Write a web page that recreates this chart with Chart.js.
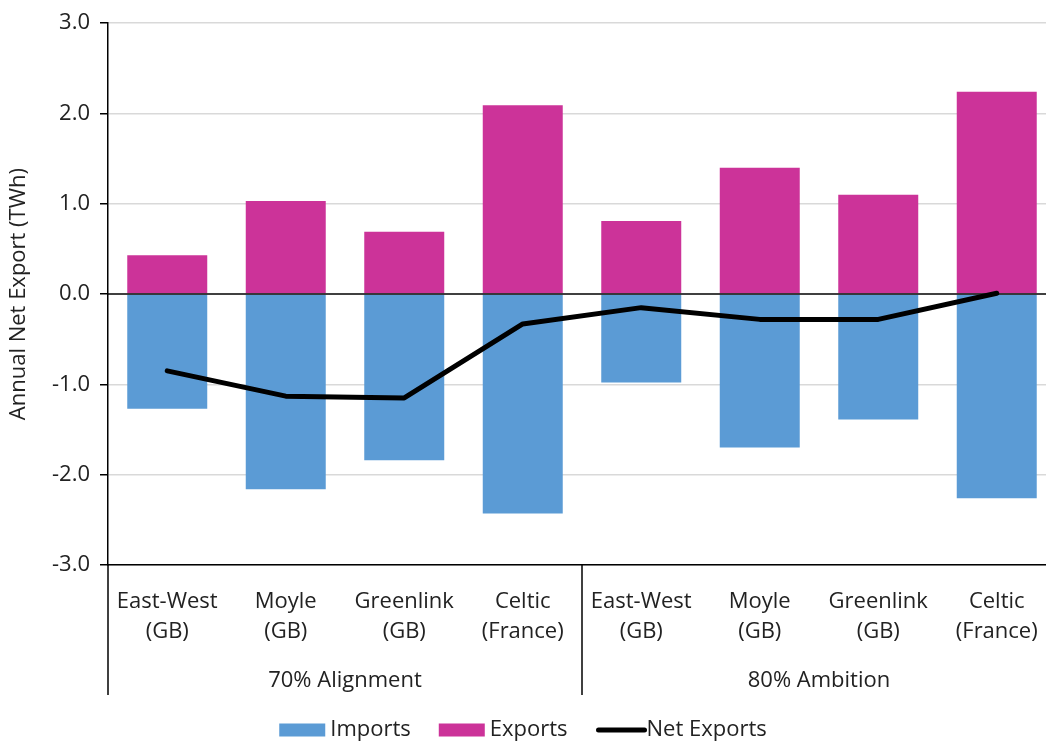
<!DOCTYPE html>
<html>
<head>
<meta charset="utf-8">
<script src="https://cdn.jsdelivr.net/npm/chart.js@4"></script>
<style>
  html, body { margin: 0; padding: 0; background: #fff; overflow: hidden; }
  #wrap { width: 1070px; height: 742px; }
</style>
</head>
<body>
<div id="wrap"><canvas id="chart" width="1070" height="742"></canvas></div>
<script>
// interconnector labels, two scenarios of four links each
const links = [
  ['East-West', '(GB)'], ['Moyle', '(GB)'], ['Greenlink', '(GB)'], ['Celtic', '(France)'],
  ['East-West', '(GB)'], ['Moyle', '(GB)'], ['Greenlink', '(GB)'], ['Celtic', '(France)']
];
const scenarios = ['70% Alignment', '80% Ambition'];
const imports = [-1.27, -2.16, -1.84, -2.43, -0.98, -1.70, -1.39, -2.26];
const exportsTWh = [0.43, 1.03, 0.69, 2.09, 0.81, 1.40, 1.10, 2.24];
const netExports = [-0.85, -1.13, -1.15, -0.33, -0.15, -0.28, -0.28, 0.01];
const yMin = -3, yMax = 3, yStep = 1;

const FONT = '"Open Sans", sans-serif';
const TEXT = '#222222';
const IMPORT_COLOR = '#5b9bd5';
const EXPORT_COLOR = '#cc3399';

const extras = {
  id: 'extras',
  beforeDatasetDraw(chart, args) {
    // zero line goes over the bars but under the net line
    if (chart.data.datasets[args.index].type !== 'line') return;
    const { ctx, chartArea } = chart;
    const y0 = chart.scales.y.getPixelForValue(0);
    ctx.save();
    ctx.strokeStyle = '#000';
    ctx.lineWidth = 1.5;
    ctx.beginPath();
    ctx.moveTo(chartArea.left, y0);
    ctx.lineTo(chartArea.right, y0);
    ctx.stroke();
    ctx.restore();
  },
  afterDraw(chart) {
    const { ctx, chartArea } = chart;
    const x = chart.scales.x;
    const per = links.length / scenarios.length;
    const bounds = [chartArea.left];
    for (let g = 1; g < scenarios.length; g++) {
      bounds.push((x.getPixelForValue(g * per - 1) + x.getPixelForValue(g * per)) / 2);
    }
    bounds.push(chartArea.right);

    ctx.save();
    ctx.strokeStyle = '#000';
    ctx.lineWidth = 1.5;
    bounds.forEach(bx => {
      ctx.beginPath();
      ctx.moveTo(bx, chartArea.bottom);
      ctx.lineTo(bx, chartArea.bottom + 130);
      ctx.stroke();
    });

    ctx.fillStyle = TEXT;
    ctx.font = '22px ' + FONT;
    ctx.textAlign = 'center';
    ctx.textBaseline = 'middle';
    scenarios.forEach((s, i) => {
      ctx.fillText(s, (bounds[i] + bounds[i + 1]) / 2, chartArea.bottom + 116);
    });

    // legend
    const items = [
      { label: 'Imports', color: IMPORT_COLOR, kind: 'box' },
      { label: 'Exports', color: EXPORT_COLOR, kind: 'box' },
      { label: 'Net Exports', color: '#000', kind: 'line' }
    ];
    const sw = 46, gapText = 5, gapItem = 28, ly = 730;
    ctx.textAlign = 'left';
    let total = 0;
    items.forEach(it => { it.w = sw + gapText + ctx.measureText(it.label).width; total += it.w; });
    total += gapItem * (items.length - 1);
    let lx = 523 - total / 2;
    items.forEach(it => {
      if (it.kind === 'box') {
        ctx.fillStyle = it.color;
        ctx.fillRect(lx, ly - 6.5, sw, 13);
      } else {
        ctx.strokeStyle = it.color;
        ctx.lineWidth = 5;
        ctx.lineCap = 'round';
        ctx.beginPath();
        ctx.moveTo(lx + 3, ly);
        ctx.lineTo(lx + sw + 3, ly);
        ctx.stroke();
      }
      ctx.fillStyle = TEXT;
      ctx.fillText(it.label, lx + sw + gapText, ly);
      lx += it.w + gapItem;
    });
    ctx.restore();
  }
};

new Chart(document.getElementById('chart'), {
  data: {
    labels: links,
    datasets: [
      {
        type: 'bar', label: 'Imports', data: imports, backgroundColor: IMPORT_COLOR,
        order: 1, barPercentage: 0.675, categoryPercentage: 1
      },
      {
        type: 'bar', label: 'Exports', data: exportsTWh, backgroundColor: EXPORT_COLOR,
        order: 1, barPercentage: 0.675, categoryPercentage: 1
      },
      {
        type: 'line', label: 'Net Exports', data: netExports, stack: 'net',
        borderColor: '#000', borderWidth: 5, pointRadius: 0, tension: 0,
        borderCapStyle: 'round', borderJoinStyle: 'round', order: 0
      }
    ]
  },
  options: {
    responsive: false,
    devicePixelRatio: 1,
    animation: false,
    layout: { padding: { top: 20, right: 14, left: 0, bottom: 0 } },
    plugins: { legend: { display: false }, tooltip: { enabled: false } },
    scales: {
      x: {
        stacked: true,
        grid: { display: false },
        border: { display: true, color: '#000', width: 1.5 },
        ticks: {
          autoSkip: false, maxRotation: 0, padding: 13, color: TEXT,
          font: { family: FONT, size: 22, lineHeight: 1.4 }
        },
        afterFit(s) { s.height = 177; }
      },
      y: {
        stacked: true,
        min: yMin, max: yMax,
        ticks: {
          stepSize: yStep, padding: 10, color: TEXT,
          font: { family: FONT, size: 22 },
          callback: v => Number(v).toFixed(1)
        },
        grid: {
          color: c => c.tick && c.tick.value === 0 ? 'rgba(0,0,0,0)' : '#d9d9d9',
          lineWidth: 1.5, tickColor: '#000', tickLength: 8
        },
        border: { display: true, color: '#000', width: 1.5 },
        title: {
          display: true, text: 'Annual Net Export (TWh)', color: TEXT,
          font: { family: FONT, size: 22 }, padding: { top: 6, bottom: 0 }
        },
        afterFit(s) { s.width = 108; }
      }
    }
  },
  plugins: [extras]
});
</script>
</body>
</html>
